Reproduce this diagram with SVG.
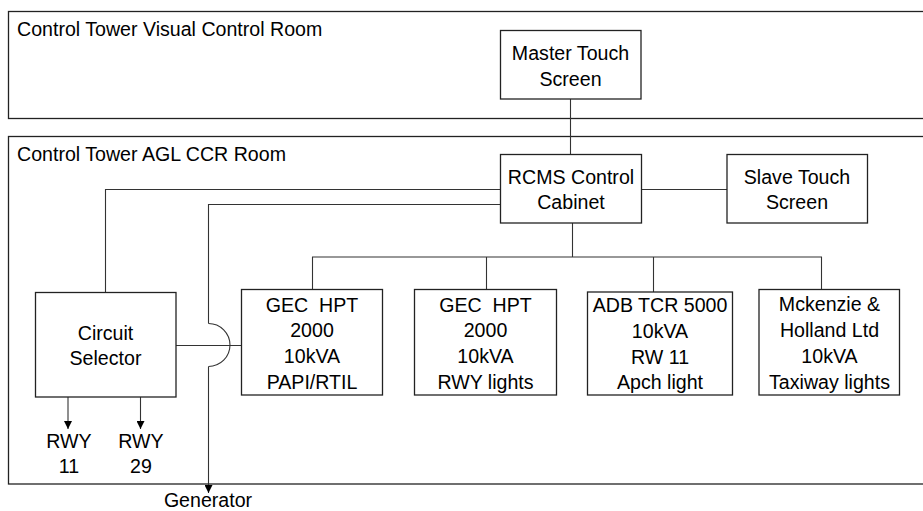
<svg xmlns="http://www.w3.org/2000/svg" width="923" height="511" viewBox="0 0 923 511">
<defs>
<marker id="arr" viewBox="0 0 8 8" refX="8" refY="4" markerWidth="8" markerHeight="8" markerUnits="userSpaceOnUse" orient="auto">
<path d="M0,0 L8,4 L0,8 Z" fill="#000"/>
</marker>
<style>
.room{fill:none;stroke:#222;stroke-width:1.3}
.box{fill:#fff;stroke:#222;stroke-width:1.3}
.ln{fill:none;stroke:#333;stroke-width:1.1}
text{font-family:"Liberation Sans",Arial,sans-serif;font-size:19.6px;fill:#000}
.c{text-anchor:middle}
.pre{white-space:pre}
</style>
</defs>
<rect width="923" height="511" fill="#fff"/>
<g id="room-vcr">
<rect class="room" x="8.5" y="11.5" width="925" height="107"/>
<text x="17" y="35.5">Control Tower Visual Control Room</text>
</g>
<g id="room-ccr">
<rect class="room" x="8.5" y="136.5" width="925" height="347.5"/>
<text x="17" y="160.5">Control Tower AGL CCR Room</text>
</g>
<g id="connectors">
<line class="ln" x1="570.5" y1="99" x2="570.5" y2="154"/>
<line class="ln" x1="641" y1="189.5" x2="727" y2="189.5"/>
<polyline class="ln" points="500,189.5 105.5,189.5 105.5,292"/>
<polyline class="ln" points="500,204.5 208.5,204.5 208.5,323.5"/>
<path class="ln" d="M208.5,323.5 A21.5,21.5 0 0 1 208.5,366.5"/>
<line class="ln" x1="208.5" y1="366.5" x2="208.5" y2="493" marker-end="url(#arr)"/>
<line class="ln" x1="176" y1="345.5" x2="241" y2="345.5"/>
<line class="ln" x1="572.5" y1="223" x2="572.5" y2="257"/>
<line class="ln" x1="312" y1="257" x2="822" y2="257"/>
<line class="ln" x1="312.5" y1="257" x2="312.5" y2="289"/>
<line class="ln" x1="486.5" y1="257" x2="486.5" y2="289"/>
<line class="ln" x1="653.5" y1="257" x2="653.5" y2="292"/>
<line class="ln" x1="821.5" y1="257" x2="821.5" y2="289"/>
<line class="ln" x1="68" y1="397" x2="68" y2="429" marker-end="url(#arr)"/>
<line class="ln" x1="140.5" y1="397" x2="140.5" y2="429" marker-end="url(#arr)"/>
</g>
<g id="master">
<rect class="box" x="500.5" y="30.5" width="140.5" height="68.5"/>
<text class="c" x="570.5" y="59.5">Master Touch</text>
<text class="c" x="570.5" y="85.5">Screen</text>
</g>
<g id="rcms">
<rect class="box" x="500.5" y="154.5" width="141" height="68.5"/>
<text class="c" x="571" y="183.5">RCMS Control</text>
<text class="c" x="571" y="209">Cabinet</text>
</g>
<g id="slave">
<rect class="box" x="727" y="154.5" width="140.5" height="68.5"/>
<text class="c" x="797" y="183.5">Slave Touch</text>
<text class="c" x="797" y="209">Screen</text>
</g>
<g id="circuit-selector">
<rect class="box" x="35.5" y="292.5" width="140.5" height="104.5"/>
<text class="c" x="105.5" y="339.5">Circuit</text>
<text class="c" x="105.5" y="365">Selector</text>
</g>
<g id="gec-papi">
<rect class="box" x="241.5" y="289.5" width="141" height="105.5"/>
<text class="c pre" x="312" y="311.5">GEC  HPT</text>
<text class="c" x="312" y="337.3">2000</text>
<text class="c" x="312" y="363">10kVA</text>
<text class="c" x="312" y="388.7">PAPI/RTIL</text>
</g>
<g id="gec-rwy">
<rect class="box" x="414.5" y="289.5" width="142" height="105.5"/>
<text class="c pre" x="485.5" y="311.5">GEC  HPT</text>
<text class="c" x="485.5" y="337.3">2000</text>
<text class="c" x="485.5" y="363">10kVA</text>
<text class="c" x="485.5" y="388.7">RWY lights</text>
</g>
<g id="adb">
<rect class="box" x="587.5" y="292" width="145" height="103"/>
<text class="c" x="660" y="312.3">ADB TCR 5000</text>
<text class="c" x="660" y="338">10kVA</text>
<text class="c" x="660" y="363.5">RW 11</text>
<text class="c" x="660" y="389">Apch light</text>
</g>
<g id="mckenzie">
<rect class="box" x="759" y="289.5" width="140.5" height="105.5"/>
<text class="c" x="829.5" y="311">Mckenzie &amp;</text>
<text class="c" x="829.5" y="337">Holland Ltd</text>
<text class="c" x="829.5" y="363">10kVA</text>
<text class="c" x="829.5" y="388.7">Taxiway lights</text>
</g>
<g id="rwy11">
<text class="c" x="69" y="448">RWY</text>
<text class="c" x="69" y="473">11</text>
</g>
<g id="rwy29">
<text class="c" x="141" y="448">RWY</text>
<text class="c" x="141" y="473">29</text>
</g>
<g id="generator">
<text class="c" x="208" y="507">Generator</text>
</g>
</svg>
